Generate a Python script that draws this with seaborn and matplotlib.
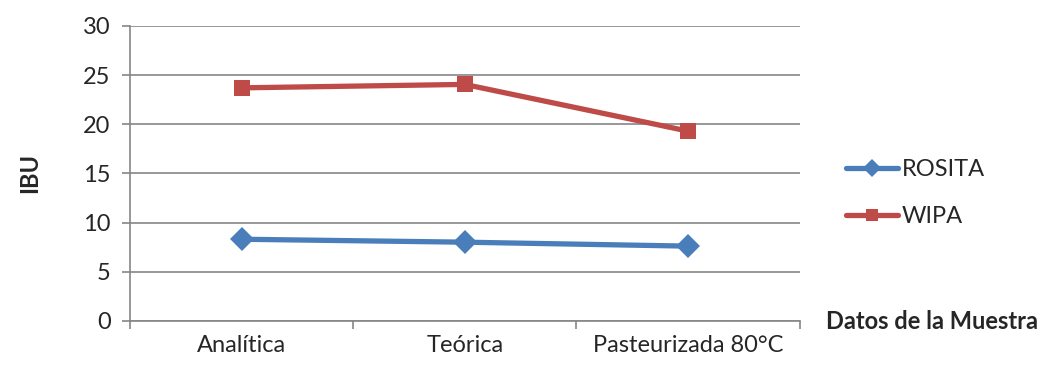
import pandas as pd
import numpy as np
import seaborn as sns
import matplotlib.pyplot as plt

categorias = ['Analítica', 'Teórica', 'Pasteurizada 80°C']
rosita = [8.3, 8.0, 7.6]
wipa = [23.7, 24.05, 19.3]
series = ['ROSITA', 'WIPA']
colores = {'ROSITA': '#4A7EBB', 'WIPA': '#BE4B48'}
marcadores = {'ROSITA': 'D', 'WIPA': 's'}

data = pd.DataFrame({
    'muestra': categorias * 2,
    'IBU': rosita + wipa,
    'serie': ['ROSITA'] * 3 + ['WIPA'] * 3,
})

sns.set_style('white')
plt.rcParams['font.family'] = ['Lato', 'DejaVu Sans']
fs = 17

fig = plt.figure(figsize=(10.48, 3.65), dpi=100)
ax = fig.add_axes([0.124, 0.121, 0.639, 0.808])

sns.lineplot(data=data, x='muestra', y='IBU', hue='serie', style='serie',
             palette=colores, markers=marcadores, dashes=False, linewidth=3.8,
             markersize=12, markeredgewidth=0, ax=ax, sort=False)

ax.set_ylim(0, 30)
ax.set_xlim(-0.5, 2.5)
ax.set_yticks(np.arange(0, 31, 5))
ax.set_xticks([0, 1, 2])
ax.set_xticklabels(categorias)
ax.set_xticks([-0.5, 0.5, 1.5, 2.5], minor=True)
ax.tick_params(axis='x', which='major', length=0, pad=10, labelsize=fs)
ax.tick_params(axis='x', which='minor', length=6, color='#868686', width=1.2, direction='out')
ax.tick_params(axis='y', length=6, color='#868686', width=1.2, direction='out', labelsize=fs, pad=8)
ax.xaxis.set_tick_params(bottom=True, which='both')
ax.yaxis.set_tick_params(left=True)
ax.grid(axis='y', color='#868686', linewidth=1.2)
ax.set_axisbelow(True)
for s in ['top', 'right']:
    ax.spines[s].set_visible(False)
for s in ['left', 'bottom']:
    ax.spines[s].set_color('#868686')
    ax.spines[s].set_linewidth(1.2)

ax.set_xlabel('')
ax.set_ylabel('IBU', fontsize=fs, fontweight='bold', labelpad=30)
fig.text(0.788, 0.12, 'Datos de la Muestra', fontsize=fs, fontweight='bold', va='center')

handles, labels = ax.get_legend_handles_labels()
ax.legend(handles, labels, loc='center left', bbox_to_anchor=(0.787, 0.47),
          bbox_transform=fig.transFigure, frameon=False, fontsize=fs,
          handlelength=2.2, handletextpad=0.15, labelspacing=1.1, markerscale=0.75)

fig.savefig('out.png', dpi=100)
